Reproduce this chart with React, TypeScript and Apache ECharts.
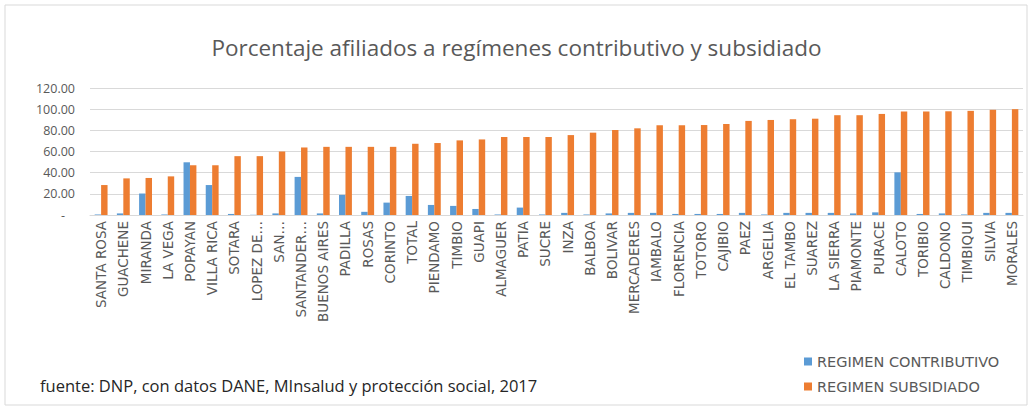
import React, { useEffect, useRef } from "react";
import * as echarts from "echarts";

const categories = [
  "SANTA ROSA", "GUACHENE", "MIRANDA", "LA VEGA", "POPAYAN", "VILLA RICA", "SOTARA",
  "LOPEZ DE…", "SAN…", "SANTANDER…", "BUENOS AIRES", "PADILLA", "ROSAS", "CORINTO",
  "TOTAL", "PIENDAMO", "TIMBIO", "GUAPI", "ALMAGUER", "PATIA", "SUCRE", "INZA",
  "BALBOA", "BOLIVAR", "MERCADERES", "IAMBALO", "FLORENCIA", "TOTORO", "CAJIBIO",
  "PAEZ", "ARGELIA", "EL TAMBO", "SUAREZ", "LA SIERRA", "PIAMONTE", "PURACE",
  "CALOTO", "TORIBIO", "CALDONO", "TIMBIQUI", "SILVIA", "MORALES",
];

const contributivo = [
  0.5, 1.5, 20.3, 0.5, 49.8, 28.3, 1.0,
  0.2, 1.5, 36.0, 1.5, 19.0, 3.0, 11.7,
  18.0, 9.5, 8.6, 5.7, 0.5, 7.0, 0.5, 2.0,
  0.5, 1.5, 2.0, 2.0, 1.0, 1.0, 1.0,
  2.0, 0.5, 2.0, 2.0, 2.0, 1.5, 2.5,
  40.3, 1.0, 1.5, 0.5, 2.0, 2.0,
];

const subsidiado = [
  28.3, 34.6, 35.0, 36.5, 47.0, 47.0, 55.6,
  55.6, 60.0, 63.8, 64.4, 64.4, 64.4, 64.4,
  67.3, 68.0, 70.5, 71.4, 73.7, 73.7, 73.7, 75.5,
  77.8, 80.3, 81.9, 84.8, 84.8, 85.0, 86.0,
  88.9, 89.8, 90.5, 91.0, 94.3, 94.3, 95.5,
  97.8, 97.8, 98.0, 98.4, 99.4, 100.0,
];

const seriesNames = ["REGIMEN CONTRIBUTIVO", "REGIMEN SUBSIDIADO"];
const titleText = "Porcentaje afiliados a regímenes contributivo y subsidiado";
const sourceText = "fuente: DNP, con datos DANE, MInsalud y protección social, 2017";

export default function App() {
  const ref = useRef<HTMLDivElement>(null);
  useEffect(() => {
    if (!ref.current) return;
    const chart = echarts.init(ref.current, null, { renderer: "svg" });
    const font = "'Open Sans', sans-serif";
    const wide = "'DejaVu Sans', sans-serif";
    chart.setOption({
      animation: false,
      backgroundColor: "#ffffff",
      title: {
        text: titleText,
        left: "center",
        top: 31,
        textStyle: { fontFamily: font, fontSize: 22.5, fontWeight: "normal", color: "#595959" },
      },
      legend: {
        orient: "vertical",
        left: 799,
        top: 349,
        icon: "rect",
        itemWidth: 8,
        itemHeight: 8,
        itemGap: 10,
        textStyle: { fontFamily: wide, fontSize: 14.5, color: "#595959" },
        data: seriesNames,
      },
      grid: { left: 90, right: 10, top: 88, bottom: 195, containLabel: false },
      xAxis: {
        type: "category",
        data: categories,
        axisLine: { lineStyle: { color: "#d9d9d9" } },
        axisTick: { show: false },
        axisLabel: {
          interval: 0,
          rotate: 90,
          fontFamily: wide,
          fontSize: 13.5,
          color: "#595959",
          margin: 6,
        },
      },
      yAxis: {
        type: "value",
        min: 0,
        max: 120,
        interval: 20,
        axisLine: { show: false },
        axisTick: { show: false },
        splitLine: { lineStyle: { color: "#d9d9d9" } },
        axisLabel: {
          fontFamily: font,
          fontSize: 12.5,
          color: "#595959",
          margin: 15,
          formatter: (v: number) => (v === 0 ? "{d|-}" : v.toFixed(2)),
          rich: { d: { fontFamily: font, fontSize: 12.5, color: "#595959", padding: [0, 10, 0, 0] } },
        },
      },
      series: [
        {
          name: seriesNames[0],
          type: "bar",
          data: contributivo,
          itemStyle: { color: "#5B9BD5" },
          barGap: "0%",
          barCategoryGap: "42%",
        },
        {
          name: seriesNames[1],
          type: "bar",
          data: subsidiado,
          itemStyle: { color: "#ED7D31" },
          barGap: "0%",
          barCategoryGap: "42%",
        },
      ],
      graphic: [
        {
          type: "rect",
          shape: { x: 5, y: 5, width: 1022, height: 400 },
          style: { fill: "none", stroke: "#d9d9d9", lineWidth: 1 },
          silent: true,
        },
        {
          type: "text",
          left: 40,
          top: 377,
          style: { text: sourceText, fontFamily: font, fontSize: 16.5, fill: "#262626" },
        },
      ],
    });
    return () => chart.dispose();
  }, []);
  return (
    <div
      ref={ref}
      style={{ position: "fixed", left: 0, top: 0, width: 1033, height: 410 }}
    />
  );
}
